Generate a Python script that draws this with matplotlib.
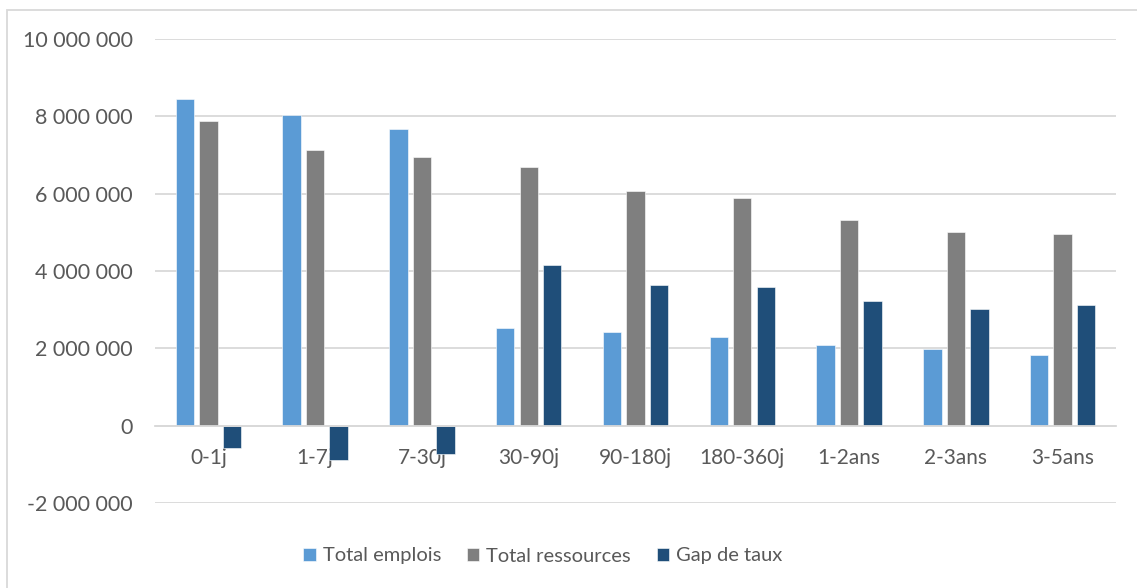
import numpy as np
import matplotlib.pyplot as plt
from matplotlib.patches import Rectangle
from matplotlib.ticker import FuncFormatter

# donnees
categories = ['0-1j', '1-7j', '7-30j', '30-90j', '90-180j', '180-360j', '1-2ans', '2-3ans', '3-5ans']
total_emplois = [8460000, 8040000, 7670000, 2520000, 2410000, 2300000, 2090000, 1980000, 1820000]
total_ressources = [7870000, 7120000, 6940000, 6680000, 6070000, 5880000, 5320000, 5020000, 4950000]
gap_taux = [-580000, -890000, -730000, 4150000, 3650000, 3580000, 3230000, 3030000, 3130000]

series = [('Total emplois', total_emplois, '#5B9BD5'),
          ('Total ressources', total_ressources, '#7F7F7F'),
          ('Gap de taux', gap_taux, '#1F4E79')]

plt.rcParams['font.family'] = ['Lato', 'DejaVu Sans']
gris_texte = '#595959'

fig = plt.figure(figsize=(11.37, 5.88), dpi=100)
ax = fig.add_axes([155/1137, 85/588, (1116-155)/1137, (503-39)/588])

x = np.arange(len(categories))
largeur = 0.172
pas = 0.22
for k, (nom, valeurs, couleur) in enumerate(series):
    ax.bar(x + (k-1)*pas, valeurs, largeur, color=couleur, label=nom,
           edgecolor='white', linewidth=0.4, zorder=2)

ax.set_xlim(-0.5, len(categories)-0.5)
ax.set_ylim(-2000000, 10000000)
ax.set_yticks(np.arange(-2000000, 10000001, 2000000))
ax.yaxis.set_major_formatter(FuncFormatter(lambda v, p: '{:,.0f}'.format(v).replace(',', ' ')))
ax.grid(axis='y', color='#D9D9D9', linewidth=1.3, zorder=0)
ax.set_axisbelow(True)

for s in ['top', 'right', 'left']:
    ax.spines[s].set_visible(False)
ax.spines['bottom'].set_position(('data', 0))
ax.spines['bottom'].set_color('#D9D9D9')
ax.spines['bottom'].set_linewidth(1.3)

ax.set_xticks(x)
ax.set_xticklabels(categories)
ax.tick_params(axis='x', length=0, pad=16, labelsize=15, labelcolor=gris_texte)
ax.tick_params(axis='y', length=0, pad=16, labelsize=15.5, labelcolor=gris_texte)

leg = fig.legend(loc='center', bbox_to_anchor=(543/1137, 32/588), ncol=3, frameon=False,
                 fontsize=14.5, handlelength=0.6, handleheight=0.6, handletextpad=0.35,
                 columnspacing=1.3, labelcolor=gris_texte)

# bordure de la zone du graphique
fig.patches.append(Rectangle((7/1137, -0.05), 1.1, 1 - 10/588 + 0.05, transform=fig.transFigure,
                             fill=False, edgecolor='#D9D9D9', linewidth=1.3))

fig.savefig('out.png', dpi=100)
